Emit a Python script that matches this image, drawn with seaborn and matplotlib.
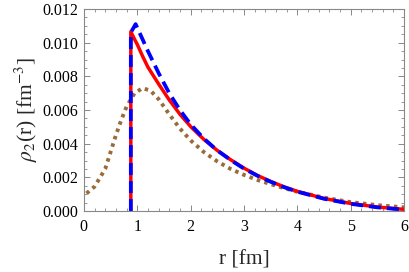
import numpy as np
import pandas as pd
import matplotlib
matplotlib.use('Agg')
import matplotlib.pyplot as plt
import seaborn as sns
from matplotlib.ticker import AutoMinorLocator, MultipleLocator

# red solid curve (r in fm, density in 1e-3 fm^-3)
r_red = [0.88, 0.88, 0.95, 1.0, 1.1, 1.2, 1.4, 1.6, 1.8, 2.0, 2.25, 2.5, 2.75,
         3.0, 3.25, 3.5, 3.75, 4.0, 4.5, 5.0, 5.5, 6.0]
rho_red = [0.0, 10.65, 10.2, 9.9, 9.2, 8.55, 7.55, 6.6, 5.75, 5.02, 4.25, 3.6, 3.05,
           2.55, 2.12, 1.76, 1.44, 1.17, 0.75, 0.45, 0.24, 0.1]

# blue dashed curve
r_blue = [0.88, 0.88, 0.97, 1.1, 1.2, 1.4, 1.6, 1.8, 2.0, 2.25, 2.5, 2.75,
          3.0, 3.25, 3.5, 3.75, 4.0, 4.5, 5.0, 5.5, 6.0]
rho_blue = [0.0, 10.6, 11.1, 10.2, 9.5, 8.2, 7.0, 6.0, 5.15, 4.3, 3.6, 3.03,
            2.52, 2.1, 1.74, 1.42, 1.15, 0.73, 0.43, 0.22, 0.08]

# brown dotted curve
r_brown = [0.05, 0.2, 0.4, 0.5, 0.6, 0.7, 0.8, 0.95, 1.1, 1.25, 1.4, 1.6, 1.8,
           2.0, 2.25, 2.5, 2.75, 3.0, 3.25, 3.5, 3.75, 4.0, 4.5, 5.0, 5.5, 6.0]
rho_brown = [1.05, 1.45, 2.5, 3.5, 4.5, 5.4, 6.2, 7.0, 7.3, 7.15, 6.65, 5.75,
             4.9, 4.2, 3.5, 2.95, 2.5, 2.15, 1.85, 1.6, 1.36, 1.15, 0.8, 0.53,
             0.35, 0.22]

sns.set_style("ticks")
plt.rcParams['font.family'] = ['Liberation Serif', 'DejaVu Serif']
plt.rcParams['mathtext.fontset'] = 'stix'

fig = plt.figure(figsize=(4.09, 2.72), dpi=100)
ax = fig.add_axes([0.205, 0.224, 0.783, 0.743])

df_brown = pd.DataFrame({'r': r_brown, 'rho': np.array(rho_brown) * 1e-3})
df_red = pd.DataFrame({'r': r_red, 'rho': np.array(rho_red) * 1e-3})
df_blue = pd.DataFrame({'r': r_blue, 'rho': np.array(rho_blue) * 1e-3})

sns.lineplot(data=df_brown, x='r', y='rho', ax=ax, sort=False, estimator=None,
             color='#9a6b3a', linewidth=2.8)
ax.lines[-1].set_dashes((0.9, 1.1))
ax.lines[-1].set_dash_capstyle('butt')
sns.lineplot(data=df_red, x='r', y='rho', ax=ax, sort=False, estimator=None,
             color='#ff0000', linewidth=2.5)
sns.lineplot(data=df_blue, x='r', y='rho', ax=ax, sort=False, estimator=None,
             color='#0000ff', linewidth=2.7)
ax.lines[-1].set_dashes((3.2, 1.6))
ax.lines[-1].set_dash_capstyle('butt')

ax.set_xlim(0, 6)
ax.set_ylim(0, 0.012)
ax.xaxis.set_major_locator(MultipleLocator(1))
ax.xaxis.set_minor_locator(AutoMinorLocator(5))
ax.yaxis.set_major_locator(MultipleLocator(0.002))
ax.yaxis.set_minor_locator(AutoMinorLocator(4))
ax.yaxis.set_major_formatter(matplotlib.ticker.FormatStrFormatter('%.3f'))

for s in ax.spines.values():
    s.set_visible(True)
    s.set_color('#888888')
    s.set_linewidth(0.8)
ax.tick_params(which='both', direction='in', top=True, right=True,
               color='#888888', labelsize=11.5, labelcolor='black')
ax.tick_params(axis='x', which='major', pad=6)
ax.tick_params(axis='y', which='major', pad=4)
ax.tick_params(which='major', length=4, width=0.7)
ax.tick_params(which='minor', length=2, width=0.6)

ax.set_xlabel('r [fm]', fontsize=15.5, labelpad=11)
ax.set_ylabel(r'$\rho_2$(r) [fm$^{-3}$]', fontsize=15.5, labelpad=2)

fig.savefig('out.png', dpi=100)
